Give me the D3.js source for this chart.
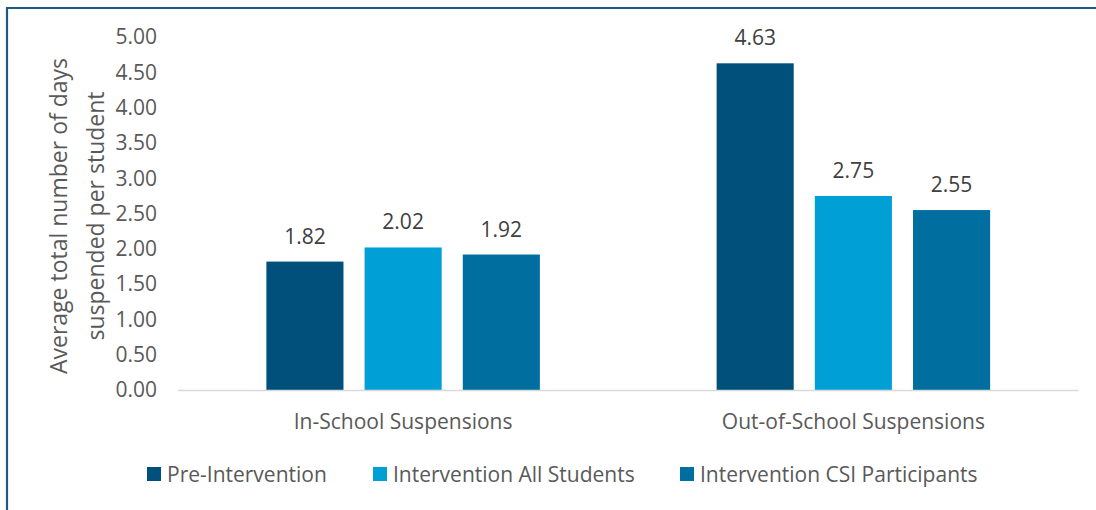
<!DOCTYPE html>
<html>
<head>
<meta charset="utf-8">
<script src="https://cdn.jsdelivr.net/npm/d3@7"></script>
<style>
  html, body { margin: 0; padding: 0; background: #fff; }
  svg { display: block; }
  text { font-family: "Open Sans", "Noto Sans", sans-serif; }
</style>
</head>
<body>
<script>
// Suspension data: average days suspended per student
const categories = ["In-School Suspensions", "Out-of-School Suspensions"];
const seriesNames = ["Pre-Intervention", "Intervention All Students", "Intervention CSI Participants"];
const preIntervention = [1.82, 4.63];
const interventionAll = [2.02, 2.75];
const interventionCSI = [1.92, 2.55];
const yTicks = [0, 0.5, 1, 1.5, 2, 2.5, 3, 3.5, 4, 4.5, 5];
const colors = ["#00507C", "#00A0D6", "#006E9E"];

const W = 1096, H = 510;
const plot = { left: 178, right: 1078.5, top: 37.2, bottom: 390 };
const fs = "21px";

const svg = d3.select("body").append("svg").attr("width", W).attr("height", H);

// Frame
svg.append("path")
  .attr("d", `M7,${H + 5} L7,8 L${W + 5},8`)
  .attr("fill", "none").attr("stroke", "#1F5A82").attr("stroke-width", 2.2);

const x0 = d3.scaleBand().domain(categories).range([plot.left, plot.right]).paddingInner(0).paddingOuter(0);
const x1 = d3.scaleBand().domain(seriesNames).range([0, x0.bandwidth()]).paddingInner(0.215).paddingOuter(0.9);
const y = d3.scaleLinear().domain([0, 5]).range([plot.bottom, plot.top]);

// Y axis labels
const yAxis = d3.axisLeft(y).tickValues(yTicks).tickFormat(d3.format(".2f")).tickSize(0).tickPadding(21);
const gy = svg.append("g").attr("transform", `translate(${plot.left},0)`).call(yAxis);
gy.select(".domain").remove();
gy.selectAll("text").attr("fill", "#595959").style("font-size", fs).style("font-family", "'Open Sans', sans-serif");

// Y axis title
const yTitle = svg.append("text")
  .attr("transform", `translate(0,216) rotate(-90)`)
  .attr("text-anchor", "middle").attr("fill", "#595959").style("font-size", "23px");
yTitle.append("tspan").attr("x", 0).attr("y", 67).text("Average total number of days");
yTitle.append("tspan").attr("x", 0).attr("y", 103.5).text("suspended per student");

const series = seriesNames.map((name, i) => ({
  name, color: colors[i], values: [preIntervention, interventionAll, interventionCSI][i]
}));

// Bars
const groups = svg.append("g").selectAll("g").data(categories).join("g")
  .attr("transform", d => `translate(${x0(d)},0)`);

groups.each(function(cat, ci) {
  const g = d3.select(this);
  const data = series.map(s => ({ name: s.name, color: s.color, value: s.values[ci] }));
  g.selectAll("rect").data(data).join("rect")
    .attr("x", d => x1(d.name)).attr("width", x1.bandwidth())
    .attr("y", d => y(d.value)).attr("height", d => y(0) - y(d.value))
    .attr("fill", d => d.color);
  g.selectAll("text.val").data(data).join("text").attr("class", "val")
    .attr("x", d => x1(d.name) + x1.bandwidth() / 2)
    .attr("y", d => y(d.value) - 18)
    .attr("text-anchor", "middle").attr("fill", "#404040").style("font-size", fs)
    .text(d => d3.format(".2f")(d.value));
});

// Baseline
svg.append("line").attr("x1", plot.left).attr("x2", plot.right)
  .attr("y1", y(0) + 0.5).attr("y2", y(0) + 0.5).attr("stroke", "#D9D9D9").attr("stroke-width", 1.5);

// Category labels
svg.append("g").selectAll("text").data(categories).join("text")
  .attr("x", d => x0(d) + x0.bandwidth() / 2).attr("y", 428.5)
  .attr("text-anchor", "middle").attr("fill", "#595959").style("font-size", fs).text(d => d);

// Legend
const legendX = [147, 373, 680];
const leg = svg.append("g").selectAll("g").data(series).join("g")
  .attr("transform", (d, i) => `translate(${legendX[i]},467)`);
leg.append("rect").attr("width", 14).attr("height", 14).attr("fill", d => d.color);
leg.append("text").attr("x", 20).attr("y", 14.5).attr("fill", "#595959").style("font-size", fs).text(d => d.name);
</script>
</body>
</html>
